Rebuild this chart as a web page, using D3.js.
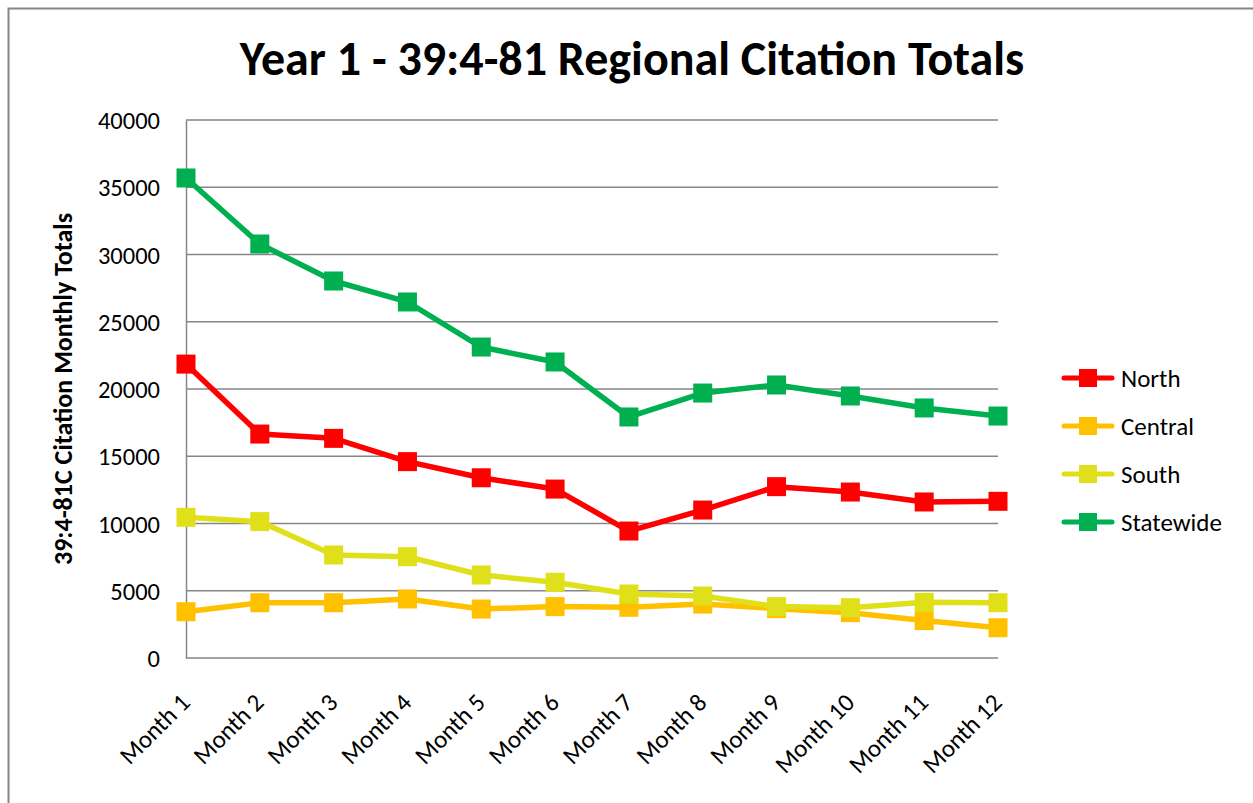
<!DOCTYPE html>
<html>
<head>
<meta charset="utf-8">
<script src="https://cdn.jsdelivr.net/npm/d3@7"></script>
<style>
  body { margin: 0; background: #fff; }
  svg text { font-family: Calibri, Carlito, Lato, sans-serif; fill: #000; }
</style>
</head>
<body>
<div id="chart"></div>
<script>
var months = ['Month 1', 'Month 2', 'Month 3', 'Month 4', 'Month 5', 'Month 6',
  'Month 7', 'Month 8', 'Month 9', 'Month 10', 'Month 11', 'Month 12'];
var seriesNames = ['North', 'Central', 'South', 'Statewide'];
var seriesColors = ['#ff0000', '#ffc000', '#e0e01a', '#00b050'];
var north = [21850, 16650, 16330, 14600, 13400, 12560, 9440, 11000, 12740, 12340, 11600, 11650];
var central = [3440, 4110, 4110, 4390, 3640, 3820, 3770, 4010, 3670, 3370, 2780, 2250];
var south = [10460, 10140, 7660, 7530, 6170, 5630, 4760, 4610, 3820, 3740, 4140, 4110];
var statewide = [35690, 30780, 28030, 26470, 23120, 22010, 17920, 19700, 20300, 19480, 18590, 17990];
var yTicks = [0, 5000, 10000, 15000, 20000, 25000, 30000, 35000, 40000];

var seriesValues = [north, central, south, statewide];

var W = 1253, H = 803;
var margin = { top: 120, left: 186, bottom: 145, right: 255 },
  width = W - margin.left - margin.right,
  height = H - margin.top - margin.bottom;

var root = d3.select('#chart').append('svg')
  .attr('width', W)
  .attr('height', H);

// outer chart border
root.append('rect')
  .attr('x', 8.5).attr('y', 8.5)
  .attr('width', W + 10).attr('height', H + 10)
  .attr('fill', 'none')
  .attr('stroke', '#868686')
  .attr('stroke-width', 2);

root.append('text')
  .attr('x', 632)
  .attr('y', 75)
  .attr('text-anchor', 'middle')
  .style('font-size', '48px')
  .style('font-weight', 'bold')
  .text('Year 1 - 39:4-81 Regional Citation Totals');

var svg = root.append('g')
  .attr('transform', 'translate(' + margin.left + ', ' + margin.top + ')');

var x = d3.scalePoint().domain(months).range([0, width]);
var y = d3.scaleLinear().domain([0, 40000]).range([height, 0]);

// gridlines
svg.selectAll('.grid')
  .data(yTicks)
  .enter()
  .append('line')
  .attr('class', 'grid')
  .attr('x1', 0).attr('x2', width)
  .attr('y1', d => y(d)).attr('y2', d => y(d))
  .attr('stroke', '#868686')
  .attr('stroke-width', 1.5);

var yAxis = d3.axisLeft(y)
  .tickValues(yTicks)
  .tickSize(0)
  .tickPadding(26)
  .tickFormat(d3.format('d'));

svg.append('g')
  .call(yAxis)
  .call(g => g.select('.domain').attr('stroke', '#868686').attr('stroke-width', 1.5))
  .selectAll('text')
  .style('font-size', '24.5px')
  .attr('dy', '0.35em');

var xAxis = d3.axisBottom(x).tickSize(0).tickPadding(0);

svg.append('g')
  .attr('transform', 'translate(0,' + height + ')')
  .call(xAxis)
  .call(g => g.select('.domain').remove())
  .selectAll('text')
  .style('font-size', '25px')
  .attr('text-anchor', 'end')
  .attr('dy', 0)
  .attr('transform', 'translate(5,46) rotate(-45)');

svg.append('text')
  .attr('transform', 'rotate(-90)')
  .attr('x', -height / 2)
  .attr('y', -114)
  .attr('text-anchor', 'middle')
  .style('font-size', '26px')
  .style('font-weight', 'bold')
  .text('39:4-81C Citation Monthly Totals');

var line = d3.line()
  .x((d, i) => x(months[i]))
  .y(d => y(d));

var ms = 19;

// statewide drawn first so the regions sit on top, south over central
var drawOrder = [3, 0, 1, 2];
drawOrder.forEach(k => {
  var g = svg.append('g');
  g.append('path')
    .datum(seriesValues[k])
    .attr('fill', 'none')
    .attr('stroke', seriesColors[k])
    .attr('stroke-width', 5.5)
    .attr('stroke-linejoin', 'round')
    .attr('d', line);
  g.selectAll('rect')
    .data(seriesValues[k])
    .enter()
    .append('rect')
    .attr('x', (d, i) => x(months[i]) - ms / 2)
    .attr('y', d => y(d) - ms / 2)
    .attr('width', ms)
    .attr('height', ms)
    .attr('fill', seriesColors[k]);
});

// legend
var legend = root.append('g')
  .attr('transform', 'translate(1062, 378)');

var item = legend.selectAll('.item')
  .data(seriesNames)
  .enter()
  .append('g')
  .attr('transform', (d, i) => 'translate(0,' + i * 48 + ')');

item.append('line')
  .attr('x1', 2).attr('x2', 50)
  .attr('stroke', (d, i) => seriesColors[i])
  .attr('stroke-width', 5)
  .attr('stroke-linecap', 'round');

item.append('rect')
  .attr('x', 17).attr('y', -9)
  .attr('width', 18).attr('height', 18)
  .attr('fill', (d, i) => seriesColors[i]);

item.append('text')
  .attr('x', 59)
  .attr('dy', '0.35em')
  .style('font-size', '25px')
  .text(d => d);
</script>
</body>
</html>
